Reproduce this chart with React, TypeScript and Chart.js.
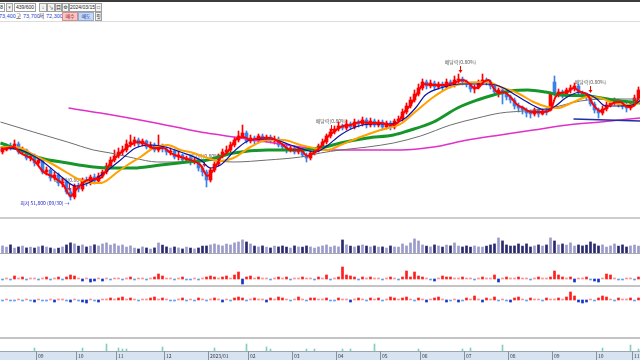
import React, { useEffect, useRef } from 'react';
import { Chart, registerables } from 'chart.js';
Chart.register(...registerables);

// ---------- price data (KRW), one entry per trading day ----------
const opens = [61400,61800,62600,62200,63000,61400,61800,60200,60600,59200,
 59800,57400,57800,56200,56800,55200,55400,53400,52400,54600,
 54000,55800,55200,56400,55600,56600,57400,58600,59800,60600,
 61400,61800,63000,63400,63800,63000,63600,62400,62800,61800,
 62600,62000,61400,61600,60400,60800,59800,60200,59400,59800,
 58200,57400,55800,57800,59000,60600,61400,61800,62800,63800,
 64600,65200,63600,64200,63600,64600,63800,64400,63600,64000,
 62800,62400,61800,62200,61400,62000,60800,60200,61200,61800,
 62600,63400,64600,65400,66000,66600,66200,67000,66400,67400,
 67000,67800,66800,67600,66800,67400,66400,67200,66400,67600,
 68000,69400,70600,71800,73000,74200,75400,74600,75200,74400,
 75000,74400,75400,74800,75800,76000,75400,75000,74000,74400,
 75200,75800,75400,74600,73400,73800,73000,72400,71800,70600,
 70200,69800,69200,69000,69800,69000,69600,69800,75400,73000,
 73400,72800,73800,74200,74600,73200,72800,72400,71000,69800,
 69200,70000,70800,71200,71600,71000,70600,70200,71000,72200];
const closes = [61800,62600,62200,63000,61400,61800,60200,60600,59200,59800,
 57400,57800,56200,56800,55200,55400,53400,52400,54600,54000,
 55800,55200,56400,55600,56600,57400,58600,59800,60600,61400,
 61800,63000,63400,63800,63000,63600,62400,62800,61800,62600,
 62000,61400,61600,60400,60800,59800,60200,59400,59800,58200,
 57400,55800,57800,59000,60600,61400,61800,62800,63800,64600,
 65200,63600,64200,63600,64600,63800,64400,63600,64000,62800,
 62400,61800,62200,61400,62000,60800,60200,61200,61800,62600,
 63400,64600,65400,66000,66600,66200,67000,66400,67400,67000,
 67800,66800,67600,66800,67400,66400,67200,66400,67600,68000,
 69400,70600,71800,73000,74200,75400,74600,75200,74400,75000,
 74400,75400,74800,75800,76000,75400,75000,74000,74400,75200,
 75800,75400,74600,73400,73800,73000,72400,71800,70600,70200,
 69800,69200,69000,69800,69000,69600,69400,73000,73000,73400,
 72800,73800,74200,74600,73200,72800,72400,71000,69800,69200,
 70000,70800,71200,71600,71000,70600,70200,71000,72200,73800];
const highs = [62400,63000,63200,63800,63400,62400,62000,61200,61000,60400,
 60000,58400,58200,57400,57200,56200,55800,54000,55000,55200,
 56200,56400,56800,57000,57200,57800,59200,60400,61800,62200,
 62600,63800,64800,64400,64200,64000,63800,63400,63200,64800,
 63000,62400,62200,62000,61400,61000,60600,60600,60200,60200,
 58600,57800,58200,59400,61000,62000,62600,63400,64400,65600,
 66800,65600,64800,64600,65000,65000,64800,64800,64600,64400,
 63200,62800,62600,62600,62400,62400,61200,61600,62200,63000,
 64000,65000,66000,66600,67400,67000,67800,67400,68000,67800,
 68400,68200,68200,68000,67800,67800,67600,67600,68000,68600,
 70000,71200,72400,73800,75000,76000,75800,75800,75600,75400,
 75400,76000,75800,76600,77000,76400,75800,75400,74800,75800,
 77000,76200,75800,75000,74200,74200,73400,72800,72200,71200,
 70600,70200,69800,70200,70000,70000,70200,73400,76600,74000,
 73800,74200,74800,75200,75000,73600,73200,72800,71400,70200,
 70600,71400,71800,72200,72000,71400,71200,71400,72800,74400];
const lows = [61000,61600,61800,62000,61000,61000,59800,59600,58600,58800,
 57000,56800,55600,55800,54600,54400,53000,51800,52000,53400,
 53600,54600,54800,55000,55200,56200,57000,58200,59400,60200,
 60800,61400,62400,62600,62400,62600,62000,61800,61400,61400,
 61400,60800,60800,60000,59800,59400,59400,58800,59000,57600,
 56600,54400,55400,57400,58600,60200,61000,61400,62400,63400,
 64200,63200,63200,63000,63200,63400,63400,63200,63000,62400,
 61800,61200,61400,61000,61000,60400,59400,59800,60800,61400,
 62200,63000,64200,65000,65600,65800,65800,66000,66000,66400,
 66600,66200,66400,66400,66400,65800,66000,65800,66000,67200,
 67600,69000,70200,71400,72600,73800,74000,74200,73800,74000,
 73800,74000,74200,74400,75200,74800,74400,73400,73200,74000,
 74800,74800,74000,72800,72400,71000,71800,71200,70000,69400,
 69000,68400,68200,68600,68400,68800,68800,69600,72600,72400,
 72200,72400,73200,73600,72800,72200,71800,70600,69200,68200,
 68800,69600,70400,70800,70400,70000,69400,69800,70600,71800];

// volume, thousand shares
const volumes = [14200,11800,16300,9800,12100,13900,10200,11700,
 9900,12300,14100,11900,10100,8200,9800,12200,
 16100,20300,18200,13800,16200,12100,13900,16400,14100,
 18100,20200,15800,18300,14200,16100,11900,14300,
 9800,8100,12200,10100,7900,10200,
 20100,15800,12200,
 9900,12100,10200,8100,11800,9900,8200,10100,13800,
 14100,16200,18100,15900,14200,17800,16100,20200,22100,
 26200,22100,18100,
 13900,12100,14200,11800,10100,13800,12200,14100,11900,9900,14200,12100,11800,14100,12200,9800,12100,
 14200,16100,11900,14100,12200,26100,
 16200,13800,12100,14200,16100,13900,12200,14100,11800,
 12200,9900,14100,12100,11800,
 18100,14200,20100,28200,24100,
 16100,13800,12200,16200,14100,11900,15800,14200,20100,13900,12100,14200,
 11800,14100,12200,11900,13800,
 16100,18200,30100,24200,
 16100,13900,14200,18100,13800,18200,12100,14100,16200,
 13900,16100,30200,
 24100,16200,18100,15800,20200,13900,16100,14200,15800,22100,18200,
 14100,16200,11900,14200,18100,13800,16200,12100,14100,15900,13800];

// sub indicator 1 (net buying), sub indicator 2
const ind1 = [-1,1,-1,3,1,2,-1,1,1,-1,
 1,2,-1,1,2,-1,2,4,3,1,
 -2,1,-3,-2,1,-2,1,-1,1,1,
 -1,1,2,-1,1,1,-1,1,2,5,
 3,1,1,-1,1,2,-1,-1,1,-1,
 1,2,3,2,1,2,3,1,4,7,
 -5,2,3,1,2,1,1,-1,1,2,
 1,2,-1,1,1,2,1,1,-1,2,
 1,4,-1,1,2,12,4,3,2,-1,
 2,1,2,1,1,-1,1,2,1,-1,
 2,8,2,7,3,2,1,-1,-2,1,
 3,2,2,1,1,2,1,1,-1,1,
 2,1,1,4,-3,1,2,1,1,2,
 1,1,-1,1,2,1,1,2,8,4,
 2,1,2,-3,1,1,2,-1,-2,-3,
 1,5,4,1,-1,-1,1,1,-1,2];
const ind2 = [-1,1,-1,-1,1,-1,1,-1,-2,1,
 -1,-1,1,-2,1,1,-1,-2,1,-1,
 -2,-3,1,-1,-2,1,1,2,1,2,
 3,1,2,1,-1,1,1,2,3,1,
 2,1,-1,-1,1,2,-1,1,-1,2,
 1,-1,1,2,1,-2,1,-1,2,3,
 2,-1,1,2,1,1,-2,2,1,3,
 2,1,-1,1,3,1,-1,2,2,1,
 1,2,-1,-1,2,1,1,-2,1,2,
 1,-1,2,1,2,-1,1,3,2,1,
 2,3,1,-1,2,1,-2,1,2,3,
 1,-2,-1,1,-2,-1,2,1,4,1,
 -2,2,1,3,-1,1,-1,-2,2,3,
 1,-1,2,1,1,-1,2,1,1,2,
 1,3,8,4,-2,-3,-2,1,-1,2,
 4,3,1,-1,2,1,1,2,-1,2];

const greenIdx = [8,20,26,29,30,31,40,53,61,66,67,76,78,85,87,93,104,115,117,125,150,157,159];
const greenVals = [3,3,7,3,2,2,4,3,7,4,2,2,2,2,2,7,2,2,3,6,3,6,2];

// moving averages: [day index, price]
const ma5 = [[-0.5,61800],[2.75,62400],[4.5,61200],[7.75,59800],[10.25,57400],[12.75,56400],[15.25,54800],[17,52600],[18.75,54200],[21.25,55800],[24.5,56200],[27,59200],[29.5,61200],[32,62800],[33.75,63400],[35.25,63200],[37.75,62200],[40.25,62200],[42,61200],[44.5,60400],[47,59800],[49.5,58800],[51.25,56600],[52.75,57800],[54.5,60200],[56.25,61400],[58.75,64200],[60.25,64400],[62,63800],[64.5,64200],[67,64200],[69.5,63200],[72,61800],[74.5,61800],[76.25,60600],[77.75,61200],[79.5,62400],[81.25,64400],[82.75,65400],[84.5,66400],[87,66800],[89.5,67400],[92,67200],[94.5,67200],[97,66800],[98.75,67200],[100.25,69200],[102,70800],[103.75,73200],[105.25,75000],[107.75,74800],[110.25,74800],[112.75,75200],[115,75800],[116.25,75400],[117.5,74400],[118.75,74200],[120.25,75400],[121.5,75800],[122.75,74200],[124,73200],[125.25,73400],[127,72400],[128.75,70800],[130.25,70200],[132,69400],[135.25,69400],[137,69800],[138.25,72400],[139.5,73200],[141.25,73400],[142.75,74200],[144.5,73400],[146.25,72800],[147.75,70800],[149.5,69600],[151.25,70400],[152.75,71200],[154.5,71400],[156.25,70400],[157.75,70600],[159.5,73000]];
const ma10 = [[-0.5,62200],[4.5,61800],[9.5,59800],[14.5,56600],[18.25,54600],[22,55400],[25.75,57400],[29.5,59800],[33.25,62200],[37,62800],[40.75,62400],[44.5,61400],[49.5,59800],[52,58200],[54.5,58800],[58.25,61800],[62,63800],[67,64000],[72,62800],[75.75,61800],[78.25,61400],[80.75,62400],[84.5,64800],[88.25,66400],[92,67000],[97,67000],[100.75,68200],[103.25,70200],[105.75,72800],[109.5,74200],[114.5,75000],[119.5,75000],[123.25,74800],[125.75,74000],[128.25,72800],[132,71000],[135.75,69800],[138.25,70600],[140.75,72200],[144.5,73400],[148.25,72200],[150.75,70600],[154.5,70600],[158.25,71000],[159.5,71800]];
const ma20 = [[-0.5,62400],[4.5,62200],[7.75,60800],[12,59200],[16.25,57200],[19.5,55800],[22.75,55200],[24.5,55200],[26.25,55800],[28.75,57400],[31.25,58800],[34.5,60400],[37.75,62200],[41.25,62800],[44.5,61800],[47.75,61200],[51.25,60200],[54.5,59600],[57.75,60200],[62,62400],[66.25,63800],[70.25,63800],[74.5,62800],[77.75,62200],[81.25,61800],[84.5,62800],[89.5,64400],[94.5,65800],[99.5,67000],[103.75,69800],[107.75,72400],[112,74400],[116.25,75200],[121.25,75400],[124.5,74400],[128.75,73200],[132.75,71400],[136.25,70400],[138.75,70200],[142.75,71400],[146.25,72400],[149.5,72200],[152.75,71200],[157.75,70800],[159.5,71400]];
const ma60 = [[-0.5,63200],[4.5,61800],[9.5,60200],[16.25,59200],[22.75,58400],[27,58200],[32.75,58200],[39.5,58800],[46.25,59400],[51.25,59800],[57.75,61200],[66.25,61800],[74.5,61800],[79.5,62200],[84.5,63200],[91.25,64200],[97.75,64800],[101.25,65600],[107.75,67400],[113.75,70200],[118.75,71800],[122.75,72800],[127,73600],[131.25,73800],[135.75,73400],[139.5,72800],[146.25,72600],[152.75,71800],[159.5,71200]];
const ma120 = [[-0.5,67400],[7.75,65400],[16.25,63400],[22.75,61800],[27,61200],[32.75,60200],[38.75,59400],[43.75,59400],[49.5,59800],[57.75,59400],[66.25,59800],[74.5,60400],[79.5,61200],[84.5,61800],[91.25,62400],[97.75,63200],[104.5,64600],[112,66800],[118.75,68200],[124.5,69200],[130.25,69600],[137,70200],[144.5,71600],[151.25,72000],[159.5,72000]];
const ma240 = [[16.5,70200],[24.5,69200],[37,67400],[49.5,65400],[54.5,64800],[57.75,64400],[66.25,63400],[74.5,62400],[82.75,61800],[91.25,61800],[99.5,61800],[107.75,62400],[116.25,63800],[124.5,64800],[132.75,65800],[141.25,66800],[149.5,67400],[159.5,68200]];
const supportLine = [[142.75,68000],[159.5,67600]];

// x-axis month tick labels (first trading day index of each month)
const monthStarts = [9,19,29,41,52,62,73,84,95,105,116,127,138,149,158];
const monthLabels = ['09','10','11','12','2023/01','02','03','04','05','06','07','08','09','10','11'];

// ex-dividend markers: day index, price at arrow tip
const divIdx = [16.6, 50.25, 82, 114.25, 146.75];
const divTip = [53600, 58400, 65400, 77200, 73200];
const divLabel = ['배당락(0.80%)','배당락(0.80%)','배당락(0.80%)','배당락(0.80%)','배당락(0.80%)'];
const lowIdx = 17;
const lowPrice = 51800;
const lowLabel = '최저 51,800 (09/30) →';

const RED = '#ff0000';
const BLUE = '#3a80ea';
const XMIN = -0.625;
const XMAX = closes.length - 0.625;
const CFONT = '"Noto Sans CJK KR", "Liberation Sans", sans-serif';

const xScale = () => ({ type: 'linear', min: XMIN, max: XMAX, display: false, offset: false, grid: { display: false } });
const baseOpts = (ymin: number, ymax: number, padBottom = 0) => ({
  animation: false,
  responsive: false,
  maintainAspectRatio: false,
  layout: { padding: { left: 0, right: 0, top: 0, bottom: padBottom } },
  plugins: { legend: { display: false }, tooltip: { enabled: false }, title: { display: false } },
  scales: { x: xScale(), y: { min: ymin, max: ymax, display: false, grid: { display: false } } },
});
const pts = (a: number[][]) => a.map(([x, y]) => ({ x, y }));
const line = (data: number[][], color: string, width: number, order: number) => ({
  type: 'line', data: pts(data), borderColor: color, borderWidth: width, pointRadius: 0,
  fill: false, cubicInterpolationMode: 'monotone', order,
});
const barColor = (v: number) => (v >= 2 ? '#ff1e1e' : v > 0 ? '#ff8c8c' : v <= -2 ? '#1432c8' : '#5a9af0');

const annotPlugin = {
  id: 'annot',
  beforeDatasetsDraw(chart: any) {
    const { ctx, scales } = chart;
    const x = scales.x, y = scales.y;
    ctx.save();
    ctx.font = '5px ' + CFONT;
    ctx.textAlign = 'center';
    ctx.textBaseline = 'middle';
    divIdx.forEach((d, k) => {
      const px = Math.round(x.getPixelForValue(d)) + 0.5;
      const py = Math.round(y.getPixelForValue(divTip[k]));
      ctx.fillStyle = '#5a5a5a';
      ctx.fillText(divLabel[k], px, py - 11);
      ctx.strokeStyle = RED;
      ctx.lineWidth = 1;
      ctx.beginPath(); ctx.moveTo(px, py - 7); ctx.lineTo(px, py - 2); ctx.stroke();
      ctx.fillStyle = RED;
      ctx.beginPath(); ctx.moveTo(px - 2, py - 3); ctx.lineTo(px + 2, py - 3); ctx.lineTo(px, py); ctx.closePath(); ctx.fill();
    });
    ctx.restore();
  },
  afterDatasetsDraw(chart: any) {
    const { ctx, scales } = chart;
    const px = scales.x.getPixelForValue(lowIdx);
    const py = scales.y.getPixelForValue(lowPrice);
    ctx.save();
    ctx.font = '5px ' + CFONT;
    ctx.textAlign = 'right';
    ctx.textBaseline = 'middle';
    ctx.fillStyle = '#1c1cc8';
    ctx.fillText(lowLabel, px - 1, py + 3);
    ctx.restore();
  },
};

const axisPlugin = {
  id: 'monthAxis',
  afterDraw(chart: any) {
    const { ctx, chartArea, scales } = chart;
    const top = chartArea.bottom;
    const h = chart.height - top;
    ctx.save();
    ctx.fillStyle = '#d7e3f0';
    ctx.fillRect(0, top, chart.width, h);
    ctx.fillStyle = '#9aa6b4';
    ctx.fillRect(0, top, chart.width, 1);
    ctx.font = '5px ' + CFONT;
    ctx.textBaseline = 'middle';
    ctx.textAlign = 'left';
    monthStarts.forEach((m, k) => {
      const px = Math.floor(scales.x.getPixelForValue(m - 0.5));
      ctx.fillStyle = '#8592a4';
      ctx.fillRect(px, top, 1, h);
      ctx.fillStyle = '#3a3a3a';
      ctx.fillText(monthLabels[k], px + 2, top + h / 2 + 0.5);
    });
    ctx.restore();
  },
};

const UIF = '"Liberation Sans", "Noto Sans CJK KR", "DejaVu Sans", sans-serif';
const boxStyle = (l: number, t: number, w: number, h: number, bg = '#ffffff', bd = '#a0a0a0', color = '#222', align: any = 'center'): React.CSSProperties => ({
  position: 'absolute', left: l, top: t, width: w, height: h, boxSizing: 'border-box',
  border: `1px solid ${bd}`, background: bg, color, fontSize: 5, lineHeight: `${h - 2}px`,
  textAlign: align, fontFamily: UIF, whiteSpace: 'nowrap', overflow: 'hidden', paddingRight: align === 'right' ? 1 : 0,
});
const txtStyle = (l: number, t: number, color: string): React.CSSProperties => ({
  position: 'absolute', left: l, top: t, height: 9, lineHeight: '9px', fontSize: 5.5, color, fontFamily: UIF, whiteSpace: 'nowrap',
});
const hline = (t: number, h: number, bg: string): React.CSSProperties => ({ position: 'absolute', left: 0, top: t, width: 640, height: h, background: bg });

export default function App() {
  const mainRef = useRef<HTMLCanvasElement>(null);
  const volRef = useRef<HTMLCanvasElement>(null);
  const ind1Ref = useRef<HTMLCanvasElement>(null);
  const ind2Ref = useRef<HTMLCanvasElement>(null);
  const botRef = useRef<HTMLCanvasElement>(null);

  useEffect(() => {
    const idx = closes.map((_, i) => i);
    const candleColors = closes.map((c, i) => (c >= opens[i] ? RED : BLUE));
    const charts: Chart[] = [];

    charts.push(new Chart(mainRef.current as HTMLCanvasElement, {
      type: 'bar',
      data: {
        datasets: [
          line(ma5, '#ff0000', 2, 1),
          line(ma10, '#0a14a0', 1.2, 2),
          line(ma20, '#ffa200', 2, 3),
          line(ma60, '#16962a', 3, 4),
          line(supportLine, '#2030a0', 1.5, 5),
          line(ma120, '#6e6e6e', 1, 6),
          line(ma240, '#e030c8', 1.5, 7),
          { type: 'bar', data: idx.map(i => ({ x: i, y: [opens[i], closes[i]] })), backgroundColor: candleColors, barThickness: 3, grouped: false, borderWidth: 0, order: 8 },
          { type: 'bar', data: idx.map(i => ({ x: i, y: [lows[i], highs[i]] })), backgroundColor: candleColors, barThickness: 1, grouped: false, borderWidth: 0, order: 9 },
        ] as any,
      },
      options: baseOpts(48400, 87000) as any,
      plugins: [annotPlugin],
    }));

    charts.push(new Chart(volRef.current as HTMLCanvasElement, {
      type: 'bar',
      data: { datasets: [{ data: idx.map(i => ({ x: i, y: volumes[i] })), backgroundColor: idx.map(i => (closes[i] >= opens[i] ? '#9a9acb' : '#2a2a72')), barThickness: 2, borderWidth: 0 }] as any },
      options: baseOpts(0, 68000) as any,
    }));

    charts.push(new Chart(ind1Ref.current as HTMLCanvasElement, {
      type: 'bar',
      data: { datasets: [{ data: idx.map(i => ({ x: i, y: ind1[i] })), backgroundColor: ind1.map(barColor), barThickness: 2, borderWidth: 0 }] as any },
      options: baseOpts(-6, 25) as any,
    }));

    charts.push(new Chart(ind2Ref.current as HTMLCanvasElement, {
      type: 'bar',
      data: { datasets: [{ data: idx.map(i => ({ x: i, y: ind2[i] })), backgroundColor: ind2.map(barColor), barThickness: 2, borderWidth: 0 }] as any },
      options: baseOpts(-6, 12) as any,
    }));

    charts.push(new Chart(botRef.current as HTMLCanvasElement, {
      type: 'bar',
      data: { datasets: [{ data: greenIdx.map((g, k) => ({ x: g, y: greenVals[k] })), backgroundColor: '#7fd2b2', barThickness: 1, borderWidth: 0 }] as any },
      options: baseOpts(0, 12, 9) as any,
      plugins: [axisPlugin],
    }));

    return () => charts.forEach(c => c.destroy());
  }, []);

  const cv = (top: number, h: number): React.CSSProperties => ({ position: 'absolute', left: 0, top, width: 640, height: h, display: 'block' });

  return (
    <div style={{ position: 'fixed', left: 0, top: 0, width: 640, height: 360, overflow: 'hidden', background: '#ffffff' }}>
      <div style={hline(0, 2, '#3c3c3c')} />
      {/* toolbar row 1 */}
      <div style={boxStyle(-5, 3, 10, 9, '#fff', '#a0a0a0', '#222', 'right')}>38</div>
      <div style={boxStyle(6, 3, 7, 9, '#f2f2f2', '#a0a0a0', '#777')}>▾</div>
      <div style={boxStyle(14, 3, 22, 9)}>439/600</div>
      <div style={boxStyle(39, 3, 8, 9, '#f4f4f4')}>↓</div>
      <div style={boxStyle(47, 3, 8, 9, '#f4f4f4')}>↘</div>
      <div style={boxStyle(55, 3, 7, 9, '#f4f4f4')}>目</div>
      <div style={boxStyle(62, 3, 7, 9, '#f4f4f4')}>⚙</div>
      <div style={boxStyle(69, 3, 27, 9)}>2024/03/15</div>
      <div style={boxStyle(95, 3, 7, 9, '#f4f4f4')}>□</div>
      {/* toolbar row 2 */}
      <div style={txtStyle(-1, 12, '#1f3fd0')}>73,400</div>
      <div style={txtStyle(16, 12, '#222')}>고</div>
      <div style={txtStyle(23, 12, '#1f3fd0')}>73,700</div>
      <div style={txtStyle(39, 12, '#222')}>저</div>
      <div style={txtStyle(46, 12, '#1f3fd0')}>72,300</div>
      <div style={boxStyle(62, 12, 16, 9, '#f6c6c6', '#d09090', '#a01010')}>매수</div>
      <div style={boxStyle(78, 12, 16, 9, '#c6daf4', '#90a8d0', '#1030a0')}>매도</div>
      <div style={boxStyle(95, 12, 7, 9, '#f4f4f4')}>핏</div>
      <div style={hline(21, 1, '#dcdcdc')} />

      <canvas ref={mainRef} width={640} height={193} style={cv(24, 193)} />
      <div style={hline(217, 2, '#cccccc')} />
      <canvas ref={volRef} width={640} height={34} style={cv(219, 34)} />
      <div style={hline(253, 1, '#a8a8a8')} />
      <canvas ref={ind1Ref} width={640} height={31} style={cv(254, 31)} />
      <div style={hline(285, 2, '#c4c4c4')} />
      <canvas ref={ind2Ref} width={640} height={18} style={cv(288, 18)} />
      <div style={hline(337, 2, '#c4c4c4')} />
      <canvas ref={botRef} width={640} height={21} style={cv(339, 21)} />
    </div>
  );
}
